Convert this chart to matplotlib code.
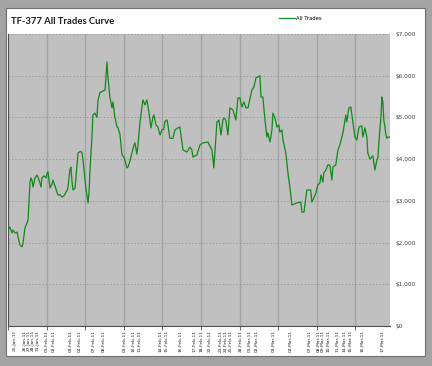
import matplotlib
matplotlib.use('Agg')
import matplotlib.pyplot as plt
from matplotlib.patches import Rectangle
from matplotlib.ticker import MultipleLocator, FixedLocator, FuncFormatter

# equity curve, x = trade position, y = account value ($)
trade_pos = [0, 1.0, 2.1, 2.6, 3.6, 4.7, 5.2, 6.2, 7.3, 7.8, 8.3, 8.8, 9.8, 10.4, 10.9,
             11.4, 11.9, 12.4, 13.0, 14.0, 15.0, 16.1, 17.1, 17.6, 18.7, 19.7, 20.2, 20.7,
             21.8, 22.8, 23.3, 24.4, 25.9, 26.9, 28.0, 29.0, 29.5, 30.6, 31.1, 32.1, 32.6,
             33.2, 33.7, 34.7, 35.2, 36.3, 37.3, 38.3, 38.9, 39.4, 40.4, 41.5, 42.0, 42.5,
             43.5, 44.0, 45.1, 46.1, 46.6, 47.7, 49.2, 50.3, 51.3, 51.8, 52.8, 53.9, 54.4,
             55.4, 56.5, 57.0, 58.0, 59.1, 60.1, 61.7, 62.2, 63.2, 64.2, 65.3, 65.8, 66.8,
             67.4, 68.4, 69.9, 71.0, 72.0, 73.1, 74.1, 75.1, 75.6, 76.7, 77.7, 78.8, 79.8,
             80.8, 81.3, 82.4, 82.9, 83.9, 85.5, 86.5, 88.1, 89.1, 90.7, 92.7, 94.3, 95.3,
             95.9, 97.9, 99.5, 101.0, 103.6, 105.7, 106.7, 108.3, 109.3, 110.4, 111.4, 111.9,
             112.9, 114.0, 115.0, 116.6, 118.1, 119.2, 120.2, 121.2, 122.3, 123.3, 124.4,
             125.4, 126.4, 127.5, 128.5, 129.5, 130.6, 131.1, 132.1, 133.2, 134.2, 134.7,
             135.8, 136.8, 137.3, 138.3, 139.4, 140.4, 140.9, 142.0, 142.5, 144.0, 145.1,
             146.1, 147.2, 149.7, 151.8, 152.3, 153.4, 154.9, 156.9, 157.5, 158.5, 159.6,
             160.6, 161.7, 162.2, 163.2, 163.7, 164.8, 165.8, 166.8, 167.9, 168.4, 169.9,
             171.0, 172.0, 173.6, 175.1, 175.6, 176.7, 177.7, 178.8, 179.8, 180.8, 181.9,
             183.4, 183.9, 185.0, 186.0, 186.5, 187.6, 189.1, 189.6, 190.2, 191.2, 191.7,
             192.7, 193.3, 193.8, 194.3, 194.8, 195.9, 196.4, 196.9, 197.9]
equity = [2300, 2370, 2230, 2300, 2230, 2250, 2130, 1940, 1900, 1990, 2180, 2350, 2470,
          2540, 3020, 3450, 3550, 3500, 3330, 3550, 3620, 3500, 3330, 3550, 3600, 3550,
          3650, 3700, 3310, 3400, 3500, 3350, 3140, 3150, 3090, 3120, 3160, 3250, 3330,
          3750, 3810, 3450, 3260, 3300, 3550, 4150, 4180, 4170, 3980, 3740, 3300, 2950,
          3200, 3740, 4530, 5060, 5100, 5000, 5400, 5600, 5630, 5660, 6330, 5970, 5490,
          5230, 5370, 5000, 4770, 4750, 4600, 4100, 4050, 3790, 3810, 3950, 4150, 4340,
          4390, 4120, 4350, 4870, 5420, 5300, 5420, 5100, 4750, 5000, 5060, 4820, 4770,
          4580, 4700, 4720, 4900, 4940, 4820, 4500, 4500, 4700, 4750, 4770, 4220, 4170,
          4290, 4220, 4050, 4100, 4340, 4390, 4410, 4220, 3790, 4890, 4940, 4580, 4940,
          4990, 4940, 4580, 5230, 5180, 4940, 5470, 5470, 5250, 5370, 5230, 5230, 5450,
          5660, 5730, 5950, 5970, 6000, 5490, 5490, 4940, 4530, 4630, 4410, 4700, 5100,
          5000, 4770, 4820, 4650, 4700, 4460, 4150, 3670, 3330, 2900, 2950, 2970, 2730,
          2730, 3260, 3260, 2970, 3070, 3190, 3380, 3430, 3620, 3450, 3670, 3740, 3860,
          3860, 3500, 3810, 3860, 4220, 4340, 4630, 5060, 4890, 5230, 5250, 4870, 4530,
          4460, 4770, 4800, 4530, 4750, 4530, 4150, 4000, 4080, 3930, 3740, 3980, 4030,
          4700, 5000, 5490, 5370, 4940, 4580, 4500, 4530, 4530]

label_pos = [3.6, 8.8, 10.9, 13.0, 15.5, 20.2, 23.8, 32.6, 37.3, 44.6, 49.7, 60.6, 65.3,
             68.4, 78.8, 82.4, 89.6, 96.9, 100.5, 104.7, 110.4, 113.0, 115.5, 120.7, 125.4,
             129.0, 137.8, 146.6, 156.5, 161.1, 163.2, 166.3, 171.0, 174.6, 177.7, 184.0, 194.3]
date_labels = ['25-Jan-11', '26-Jan-11', '27-Jan-11', '28-Jan-11', '31-Jan-11', '01-Feb-11',
               '02-Feb-11', '03-Feb-11', '04-Feb-11', '07-Feb-11', '08-Feb-11', '09-Feb-11',
               '10-Feb-11', '11-Feb-11', '14-Feb-11', '15-Feb-11', '16-Feb-11', '17-Feb-11',
               '18-Feb-11', '22-Feb-11', '23-Feb-11', '24-Feb-11', '25-Feb-11', '28-Feb-11',
               '01-Mar-11', '02-Mar-11', '03-Mar-11', '04-Mar-11', '07-Mar-11', '08-Mar-11',
               '09-Mar-11', '10-Mar-11', '11-Mar-11', '14-Mar-11', '15-Mar-11', '16-Mar-11',
               '17-Mar-11']

W, H = 432, 366
fig = plt.figure(figsize=(W / 100, H / 100), dpi=100, facecolor='#a3a3a3')

# white chart panel
fig.patches.append(Rectangle((6 / W, 1 - 356 / H), 419 / W, 348 / H, transform=fig.transFigure,
                             facecolor='white', edgecolor='#6e6e6e', linewidth=0.8, zorder=0))

ax = fig.add_axes([8 / W, 1 - 326 / H, 382 / W, 292 / H])
ax.set_zorder(2)
ax.set_facecolor('#c0c0c0')
ax.plot(trade_pos, equity, color='#13891a', linewidth=0.9, label='All Trades', zorder=3)

ax.set_xlim(0, 198)
ax.set_ylim(0, 7000)

# y axis on the right
ax.yaxis.tick_right()
ax.yaxis.set_major_locator(MultipleLocator(1000))
ax.yaxis.set_major_formatter(FuncFormatter(lambda v, p: '${:,.0f}'.format(v)))
ax.tick_params(axis='y', length=0, pad=4, labelsize=4.2, colors='#404040')
ax.yaxis.grid(True, linestyle=(0, (1.5, 2)), color='#9a9a9a', linewidth=0.7)

# x axis: date labels + vertical gridlines every 20 trades
ax.xaxis.set_major_locator(FixedLocator(label_pos))
ax.set_xticklabels(date_labels, rotation=90, fontsize=3.2, color='#202020')
ax.tick_params(axis='x', which='major', length=0, pad=3)
ax.xaxis.set_minor_locator(MultipleLocator(20))
ax.tick_params(axis='x', which='minor', length=3, width=0.6, color='#505050')
ax.xaxis.grid(True, which='minor', color='#a4a4a4', linewidth=1.0)
ax.set_axisbelow(True)

for s in ['top', 'right']:
    ax.spines[s].set_visible(False)
ax.spines['left'].set_color('#505050')
ax.spines['bottom'].set_color('#505050')
ax.spines['left'].set_linewidth(0.8)
ax.spines['bottom'].set_linewidth(0.8)

fig.text(11 / W, 1 - 21 / H, 'TF-377 All Trades Curve', fontsize=6.8, fontweight='bold',
         family='Lato', va='center', ha='left', color='#1a1a1a', zorder=3)

leg = ax.legend(loc='center left', bbox_to_anchor=(279 / W, 1 - 18 / H),
                bbox_transform=fig.transFigure, frameon=False, fontsize=3.8,
                handlelength=3.0, handletextpad=0.3, borderaxespad=0, borderpad=0)

fig.savefig('out.png', dpi=100, facecolor=fig.get_facecolor())
